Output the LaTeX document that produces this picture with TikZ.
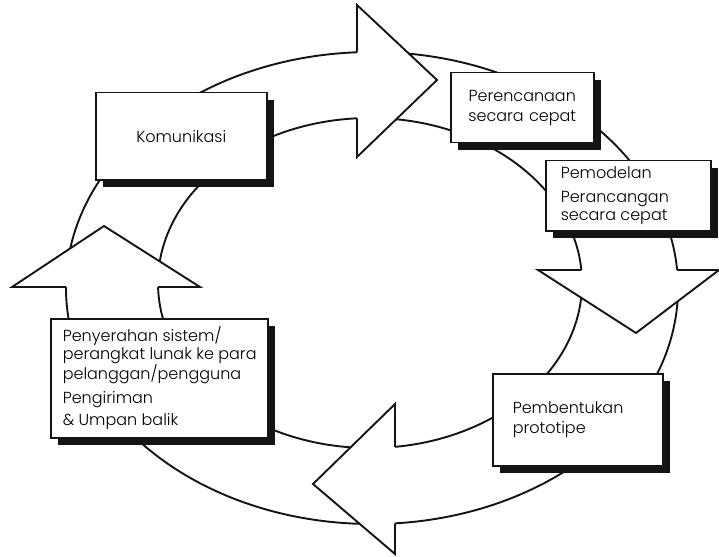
\documentclass[tikz,border=0pt]{standalone}
\usepackage{fontspec}
\setmainfont{Poppins}[UprightFont=* Light]
\usetikzlibrary{shadows,positioning}
\definecolor{ink}{HTML}{141414}
\tikzset{
  ringline/.style={draw=ink,line width=1.9pt,line join=miter},
  headfill/.style={fill=white},
  stagebox/.style={draw=ink,fill=white,line width=1.5pt,
                   drop shadow={shadow xshift=7pt,shadow yshift=-7pt,fill=ink,opacity=1},
                   anchor=north west,inner ysep=0pt,align=flush left,
                   font=\fontsize{16}{19.5}\selectfont}
}

\begin{document}
\begin{tikzpicture}[x=1pt,y=-1pt]
  \useasboundingbox (0,0) rectangle (719,556);
  % the ring
  \draw[ringline] (372,288) ellipse [x radius=306pt,y radius=236pt];
  \draw[ringline] (370,283) ellipse [x radius=212pt,y radius=165pt];
  % head at the top, pointing right
  \coordinate (topA) at (357,5);
  \coordinate (topB) at (357,157);
  \coordinate (topTip) at (437,80);
  \coordinate (topOut) at (357,52.3);
  \coordinate (topIn) at (357,118.3);
  \fill[headfill] (topA) -- (topTip) -- (topB) -- cycle;
  \draw[ringline] (topOut) -- (topA) -- (topTip) -- (topB) -- (topIn);
  % head at the right, pointing down
  \coordinate (rightA) at (538,270);
  \coordinate (rightB) at (719,270);
  \coordinate (rightTip) at (636,333);
  \coordinate (rightIn) at (581.3,270);
  \coordinate (rightOut) at (677.1,270);
  \fill[headfill] (rightA) -- (rightTip) -- (rightB) -- cycle;
  \draw[ringline] (rightIn) -- (rightA) -- (rightTip) -- (rightB) -- (rightOut);
  % head at the bottom, pointing left
  \coordinate (botA) at (395,404);
  \coordinate (botB) at (395,554);
  \coordinate (botTip) at (313,484);
  \coordinate (botIn) at (395,446.8);
  \coordinate (botOut) at (395,523.3);
  \fill[headfill] (botA) -- (botTip) -- (botB) -- cycle;
  \draw[ringline] (botIn) -- (botA) -- (botTip) -- (botB) -- (botOut);
  % head at the left, pointing up
  \coordinate (leftA) at (12,287);
  \coordinate (leftB) at (200,287);
  \coordinate (leftTip) at (104,226);
  \coordinate (leftOut) at (66,287);
  \coordinate (leftIn) at (158.1,287);
  \fill[headfill] (leftA) -- (leftTip) -- (leftB) -- cycle;
  \draw[ringline] (leftOut) -- (leftA) -- (leftTip) -- (leftB) -- (leftIn);
  % the five stages
  \node[stagebox,align=center,minimum width=171pt,minimum height=87pt]
    (komunikasi) at (95,92) {Komunikasi};
  \node[stagebox,align=center,text width=115pt,inner xsep=14pt,minimum height=70pt]
    (perencanaan) at (450,72) {Perencanaan\\secara cepat};
  \node[stagebox,text width=135pt,inner xsep=15pt,minimum height=70pt,
        font=\fontsize{16}{18}\selectfont]
    (pemodelan) at (545,160) {Pemodelan\\[6pt]Perancangan\\secara cepat};
  \node[stagebox,text width=130pt,inner xsep=20pt,minimum height=92pt]
    (pembentukan) at (492,373) {Pembentukan\\prototipe};
  \node[stagebox,text width=205pt,inner xsep=6pt,minimum height=119pt,
        font=\fontsize{16}{17.5}\selectfont]
    (penyerahan) at (50,318)
    {\hspace*{6pt}Penyerahan sistem/\\\hspace*{6pt}perangkat lunak ke para\\\hspace*{6pt}pelanggan/pengguna\\[6pt]\hspace*{6pt}Pengiriman\\[5pt]\hspace*{6pt}\& Umpan balik};
\end{tikzpicture}
\end{document}
